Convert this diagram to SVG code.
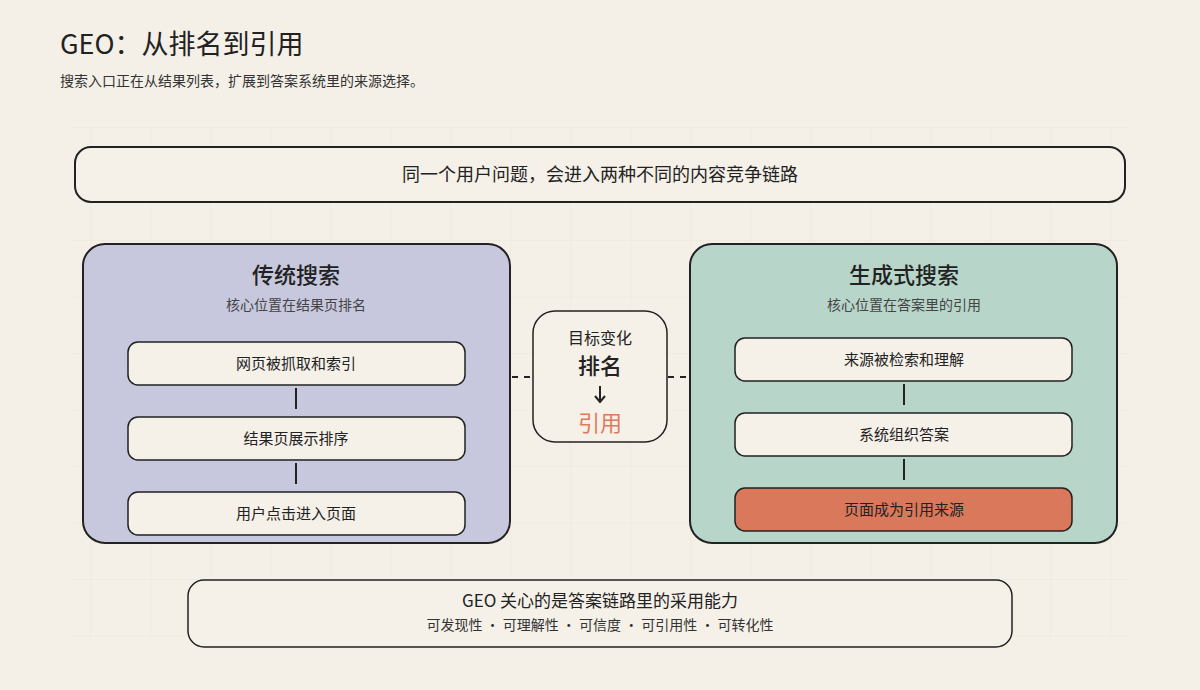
<svg xmlns="http://www.w3.org/2000/svg" width="1200" height="690" viewBox="0 0 1200 690">
<defs>
<pattern id="grid" x="90" y="127" width="60" height="56.5" patternUnits="userSpaceOnUse">
<path d="M0 0V56.5M0 0H60" fill="none" stroke="#ebe6dc" stroke-width="1"/>
</pattern>
<style>
text{font-family:"Noto Sans CJK SC","Noto Sans",sans-serif;fill:#222;text-anchor:middle}
.box{stroke:#222;stroke-width:2}
.step{fill:#f5f0e8;stroke:#222;stroke-width:1.5}
.lbl{font-size:15px}
.sub{font-size:14px;fill:#444}
.conn line{stroke:#222;stroke-width:2}
</style>
</defs>
<rect width="1200" height="690" fill="#f4f0e8"/>
<rect x="70" y="127" width="1060" height="510" fill="url(#grid)"/>
<text x="60" y="54" style="text-anchor:start;font-size:27px;font-family:'Noto Sans CJK SC',sans-serif">GEO：从排名到引用</text>
<text x="60" y="86" style="text-anchor:start;font-size:14px;fill:#333">搜索入口正在从结果列表，扩展到答案系统里的来源选择。</text>

<g id="top"><rect x="75" y="147" width="1050" height="55" rx="16" fill="#f5f0e8" class="box"/>
<text x="600" y="181" style="font-size:18px">同一个用户问题，会进入两种不同的内容竞争链路</text></g>

<g id="left"><rect x="83" y="244" width="427" height="299" rx="22" fill="#c7c8dd" class="box"/>
<text x="296" y="283" style="font-size:22px;font-weight:500">传统搜索</text>
<text x="296" y="310" class="sub">核心位置在结果页排名</text></g>
<g id="right"><rect x="690" y="244" width="427" height="299" rx="22" fill="#b8d5c9" class="box"/>
<text x="904" y="283" style="font-size:22px;font-weight:500">生成式搜索</text>
<text x="904" y="310" class="sub">核心位置在答案里的引用</text></g>

<g class="conn" id="connectors">
<line x1="512" y1="377" x2="532" y2="377" stroke-dasharray="6 6"/>
<line x1="668" y1="377" x2="690" y2="377" stroke-dasharray="6 6"/>
<line x1="296" y1="388" x2="296" y2="409"/>
<line x1="296" y1="463" x2="296" y2="484"/>
<line x1="904" y1="384" x2="904" y2="405"/>
<line x1="904" y1="459" x2="904" y2="480"/>
</g>

<g id="l1"><rect x="128" y="342" width="337" height="43" rx="10" class="step"/><text x="296" y="369" class="lbl">网页被抓取和索引</text></g>
<g id="l2"><rect x="128" y="417" width="337" height="43" rx="10" class="step"/><text x="296" y="444" class="lbl">结果页展示排序</text></g>
<g id="l3"><rect x="128" y="492" width="337" height="43" rx="10" class="step"/><text x="296" y="519" class="lbl">用户点击进入页面</text></g>

<g id="center"><rect x="533" y="311" width="134" height="131" rx="22" fill="#f5f0e8" stroke="#222" stroke-width="1.5"/>
<text x="600" y="344" style="font-size:16px">目标变化</text>
<text x="600" y="374" style="font-size:22px;font-weight:500">排名</text>
<path d="M600 386V401M595 396L600 402L605 396" fill="none" stroke="#222" stroke-width="2"/>
<text x="600" y="431" style="font-size:22px;fill:#e07a5a">引用</text></g>

<g id="r1"><rect x="735" y="338" width="337" height="43" rx="10" class="step"/><text x="904" y="365" class="lbl">来源被检索和理解</text></g>
<g id="r2"><rect x="735" y="413" width="337" height="43" rx="10" class="step"/><text x="904" y="440" class="lbl">系统组织答案</text></g>
<g id="r3"><rect x="735" y="488" width="337" height="43" rx="10" fill="#d9785a" stroke="#222" stroke-width="1.5"/><text x="904" y="515" class="lbl">页面成为引用来源</text></g>

<g id="bottom"><rect x="188" y="580" width="824" height="67" rx="16" fill="#f5f0e8" stroke="#222" stroke-width="1.5"/>
<text x="600" y="607" style="font-size:17px">GEO 关心的是答案链路里的采用能力</text>
<text x="600" y="630" style="font-size:14px;fill:#333">可发现性 · 可理解性 · 可信度 · 可引用性 · 可转化性</text></g>
</svg>
